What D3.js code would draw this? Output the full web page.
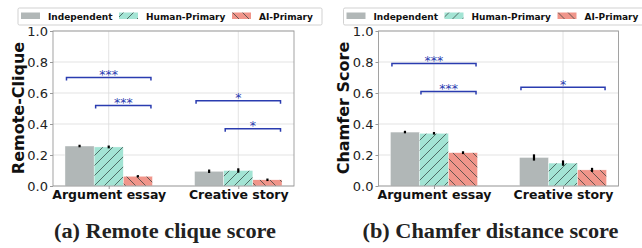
<!DOCTYPE html>
<html>
<head>
<meta charset="utf-8">
<script src="https://cdn.jsdelivr.net/npm/d3@7/dist/d3.min.js"></script>
<style>
  body { margin: 0; background: #fff; }
  svg text { font-family: "DejaVu Sans", sans-serif; }
  svg text.caption { font-family: "Liberation Serif", "DejaVu Serif", serif; }
</style>
</head>
<body>
<div id="chart"></div>
<script>
// categories and series
var categories = ["Argument essay", "Creative story"];
var conditions = ["Independent", "Human-Primary", "AI-Primary"];
var yTicks = [0.0, 0.2, 0.4, 0.6, 0.8, 1.0];

// (a) remote clique: one array per condition, values per category
var rcIndependent = [0.258, 0.095];
var rcHuman = [0.252, 0.100];
var rcAI = [0.063, 0.040];
var rcErrIndependent = [0.003, 0.006];
var rcErrHuman = [0.004, 0.009];
var rcErrAI = [0.002, 0.003];
// significance: [category, first condition, last condition, height, label]
var rcSig = [[0, 0, 2, 0.70, "***"], [0, 1, 2, 0.52, "***"], [1, 0, 2, 0.55, "*"], [1, 1, 2, 0.37, "*"]];

// (b) chamfer
var chIndependent = [0.348, 0.184];
var chHuman = [0.340, 0.148];
var chAI = [0.215, 0.104];
var chErrIndependent = [0.003, 0.015];
var chErrHuman = [0.003, 0.012];
var chErrAI = [0.004, 0.008];
var chSig = [[0, 0, 2, 0.79, "***"], [0, 1, 2, 0.61, "***"], [1, 0, 2, 0.637, "*"]];

var colors = ["#b1b7b7", "#a3e4d4", "#f0958a"];
var hatches = [null, "fwd", "back"];
var barW = 0.225;

var svg = d3.select("#chart").append("svg")
  .attr("width", 642).attr("height", 248);

// hatch patterns
var defs = svg.append("defs");
function addHatch(id, fill, dir) {
  var p = defs.append("pattern").attr("id", id)
    .attr("patternUnits", "userSpaceOnUse").attr("width", 10).attr("height", 10);
  p.append("rect").attr("width", 10).attr("height", 10).attr("fill", fill);
  var d = dir == "fwd" ? "M-1,1 l2,-2 M0,10 l10,-10 M9,11 l2,-2" : "M-1,9 l2,2 M0,0 l10,10 M9,-1 l2,2";
  p.append("path").attr("d", d).attr("stroke", "#2b3a36").attr("stroke-width", 0.7);
}
addHatch("hfwd", colors[1], "fwd");
addHatch("hback", colors[2], "back");
function fillFor(i) {
  if (hatches[i] == "fwd") return "url(#hfwd)";
  if (hatches[i] == "back") return "url(#hback)";
  return colors[i];
}

function panel(ox, plotW, vals, errs, sig, ylabel, caption, capW) {
  var left = ox + 53, top = 31, bottom = 186;
  var x = d3.scaleLinear().domain([-0.43, 1.43]).range([left, left + plotW]);
  var y = d3.scaleLinear().domain([0, 1]).range([bottom, top]);
  var g = svg.append("g");

  // grid
  g.selectAll(".hg").data(yTicks).enter().append("line")
    .attr("x1", left).attr("x2", left + plotW)
    .attr("y1", function(d) { return y(d); }).attr("y2", function(d) { return y(d); })
    .attr("stroke", "#dcdcdc").attr("stroke-width", 0.8);
  g.selectAll(".vg").data(categories).enter().append("line")
    .attr("x1", function(d, i) { return x(i); }).attr("x2", function(d, i) { return x(i); })
    .attr("y1", top).attr("y2", bottom)
    .attr("stroke", "#dcdcdc").attr("stroke-width", 0.8);

  // bars
  conditions.forEach(function(c, j) {
    g.selectAll(".b" + j).data(vals[j]).enter().append("rect")
      .attr("x", function(d, i) { return x(i + (j - 1.5) * barW); })
      .attr("width", x(barW) - x(0))
      .attr("y", function(d) { return y(d); })
      .attr("height", function(d) { return bottom - y(d); })
      .attr("fill", fillFor(j))
      .attr("stroke", "#fff").attr("stroke-width", 0.4);
    g.selectAll(".e" + j).data(vals[j]).enter().append("line")
      .attr("x1", function(d, i) { return x(i + (j - 1) * barW); })
      .attr("x2", function(d, i) { return x(i + (j - 1) * barW); })
      .attr("y1", function(d, i) { return y(d - errs[j][i]) + 0.8; })
      .attr("y2", function(d, i) { return y(d + errs[j][i]) - 0.8; })
      .attr("stroke", "#000").attr("stroke-width", 2.2);
  });

  // frame
  g.append("rect").attr("x", left).attr("y", top).attr("width", plotW).attr("height", bottom - top)
    .attr("fill", "none").attr("stroke", "#999").attr("stroke-width", 0.9);

  // axes
  var ya = d3.axisLeft(y).tickValues(yTicks).tickFormat(d3.format(".1f")).tickSize(3).tickPadding(2);
  var yg = g.append("g").attr("transform", "translate(" + left + ",0)").call(ya);
  yg.select(".domain").remove();
  yg.selectAll("line").attr("stroke", "#999");
  yg.selectAll("text").attr("font-size", 13).attr("fill", "#222");

  var xa = d3.axisBottom(x).tickValues([0, 1]).tickFormat(function(d) { return categories[d]; })
    .tickSize(3).tickPadding(1);
  var xg = g.append("g").attr("transform", "translate(0," + bottom + ")").call(xa);
  xg.select(".domain").remove();
  xg.selectAll("line").attr("stroke", "#999");
  xg.selectAll("text").attr("font-size", 12.5).attr("font-weight", "bold").attr("fill", "#111");

  // y label
  g.append("text").attr("transform", "translate(" + (ox + 18) + ",108) rotate(-90)")
    .attr("text-anchor", "middle").attr("dominant-baseline", "central")
    .attr("font-size", 16).attr("font-weight", "bold").attr("fill", "#111")
    .text(ylabel);

  // significance brackets
  sig.forEach(function(s) {
    var x1 = x(s[0] + (s[1] - 1.5) * barW) + 1.5;
    var x2 = x(s[0] + (s[2] - 0.5) * barW) - 1.5;
    var yy = y(s[3]);
    g.append("path").attr("d", "M" + x1 + "," + (yy + 3) + "V" + yy + "H" + x2 + "V" + (yy + 3))
      .attr("fill", "none").attr("stroke", "#2a3cb0").attr("stroke-width", 1.5);
    g.append("text").attr("x", (x1 + x2) / 2).attr("y", yy + 1.5)
      .attr("text-anchor", "middle").attr("font-size", 12.5).attr("fill", "#2a3cb0")
      .text(s[4]);
  });

  // legend
  var lg = svg.append("g").attr("transform", "translate(" + (ox + 18) + ",8)");
  lg.append("rect").attr("width", 304).attr("height", 17).attr("rx", 1.5)
    .attr("fill", "#fff").attr("stroke", "#ccc").attr("stroke-width", 0.9);
  var offs = [3, 101, 214];
  conditions.forEach(function(c, j) {
    lg.append("rect").attr("x", offs[j]).attr("y", 4.5).attr("width", 19).attr("height", 6.5)
      .attr("fill", fillFor(j));
    lg.append("text").attr("x", offs[j] + 27).attr("y", 11.6)
      .attr("font-size", 9).attr("font-weight", "bold").attr("fill", "#111")
      .text(c);
  });

  // caption
  svg.append("text").attr("class", "caption").attr("x", ox + 165).attr("y", 238)
    .attr("text-anchor", "middle")
    .attr("font-size", 20).attr("font-weight", "bold").attr("fill", "#222")
    .attr("textLength", capW).attr("lengthAdjust", "spacingAndGlyphs")
    .text(caption);
}

panel(0, 241, [rcIndependent, rcHuman, rcAI], [rcErrIndependent, rcErrHuman, rcErrAI], rcSig,
  "Remote-Clique", "(a) Remote clique score", 222);
panel(325.5, 240, [chIndependent, chHuman, chAI], [chErrIndependent, chErrHuman, chErrAI], chSig,
  "Chamfer Score", "(b) Chamfer distance score", 256);
</script>
</body>
</html>
